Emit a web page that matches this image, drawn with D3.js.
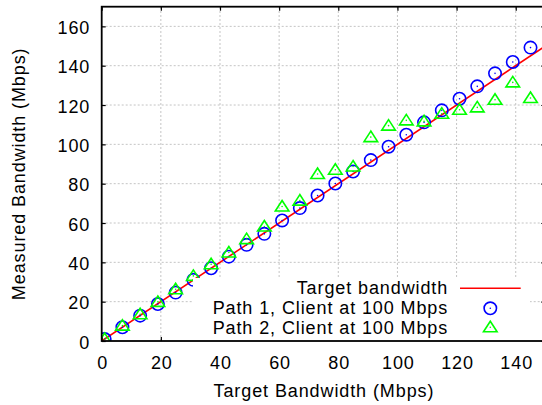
<!DOCTYPE html>
<html>
<head>
<meta charset="utf-8">
<script src="https://cdn.jsdelivr.net/npm/d3@7"></script>
<style>
  html, body { margin: 0; padding: 0; background: #fff; }
  svg { display: block; }
  text { font-family: "Liberation Sans", Arial, Helvetica, sans-serif; font-size: 18px; letter-spacing: 0.9px; fill: #000; }
</style>
</head>
<body>
<svg id="chart" width="542" height="405"></svg>
<script>
// ---- data ----
const targetX = [0, 150];
const targetY = [0, 150];
const xValues = [1, 7, 13, 19, 25, 31, 37, 43, 49, 55, 61, 67, 73, 79, 85, 91, 97, 103, 109, 115, 121, 127, 133, 139, 145];
const path1 = [1, 7, 12.9, 18.8, 24.6, 31.1, 37, 42.9, 48.9, 54.5, 61.3, 67.6, 74, 80.1, 86.2, 92, 98.8, 104.9, 111.2, 117.3, 123.2, 129.5, 136.1, 141.9, 149.2];
const path2 = [1, 7.8, 13.6, 19.9, 26.3, 33.1, 39, 45, 51.8, 58.2, 68.4, 71.4, 84.9, 87.1, 88.7, 103.7, 109.5, 112.2, 111.7, 115.6, 117.6, 118.8, 122.7, 131.5, 123.6];
const xTicks = [0, 20, 40, 60, 80, 100, 120, 140];
const yTicks = [0, 20, 40, 60, 80, 100, 120, 140, 160];
const legendLabels = ["Target bandwidth", "Path 1, Client at 100 Mbps", "Path 2, Client at 100 Mbps"];
const xTitle = "Target Bandwidth (Mbps)";
const yTitle = "Measured Bandwidth (Mbps)";

// ---- layout ----
const L = 101.7, R = 545.3, T = 6.7, B = 341;
const x = d3.scaleLinear().domain([0, 150]).range([L, R]);
const y = d3.scaleLinear().domain([0, 170]).range([B, T]);
const svg = d3.select("#chart");

const RED = "#ff0000", BLUE = "#0000ff", GREEN = "#00ff00";

svg.append("defs").append("clipPath").attr("id", "clip")
  .append("rect").attr("x", L).attr("y", T).attr("width", R - L).attr("height", B - T);

// grid
const grid = svg.append("g");
grid.selectAll("line.gx").data(xTicks.filter(d => d > 0)).join("line")
  .attr("x1", d => x(d)).attr("x2", d => x(d)).attr("y1", B).attr("y2", T)
  .attr("stroke", "#c4c4c4").attr("stroke-width", 1).attr("stroke-dasharray", "2,2");
grid.selectAll("line.gy").data(yTicks.filter(d => d > 0)).join("line")
  .attr("y1", d => y(d)).attr("y2", d => y(d)).attr("x1", L).attr("x2", R)
  .attr("stroke", "#c4c4c4").attr("stroke-width", 1).attr("stroke-dasharray", "2,2");

// axes (ticks inward)
const fmt = d3.format("d");
const gxB = svg.append("g").attr("transform", `translate(0,${B})`)
  .call(d3.axisBottom(x).tickValues(xTicks).tickFormat(fmt).tickSize(-4));
gxB.selectAll("text").attr("y", 28).attr("dy", 0).attr("dx", "0.45px");
const gyL = svg.append("g").attr("transform", `translate(${L},0)`)
  .call(d3.axisLeft(y).tickValues(yTicks).tickFormat(fmt).tickSize(-4));
gyL.selectAll("text").attr("x", -11.5).attr("dy", 7);
const gxT = svg.append("g").attr("transform", `translate(0,${T})`)
  .call(d3.axisTop(x).tickValues(xTicks).tickFormat("").tickSize(-4));
const gyR = svg.append("g").attr("transform", `translate(${R},0)`)
  .call(d3.axisRight(y).tickValues(yTicks).tickFormat("").tickSize(-4));
[gxB, gyL, gxT, gyR].forEach(g => {
  g.select(".domain").remove();
  g.attr("font-family", null).attr("font-size", null);
  g.selectAll(".tick line").attr("stroke", "#000").attr("stroke-width", 1.2);
  g.selectAll("text").attr("fill", "#000");
});

// data
const plot = svg.append("g").attr("clip-path", "url(#clip)");
const line = d3.line().x(d => x(d[0])).y(d => y(d[1]));
plot.append("path").datum(targetX.map((v, i) => [v, targetY[i]]))
  .attr("d", line).attr("fill", "none").attr("stroke", RED).attr("stroke-width", 1.6);

function circleMarker(g, cx, cy) {
  g.append("circle").attr("cx", cx).attr("cy", cy).attr("r", 6.2)
    .attr("fill", "none").attr("stroke", BLUE).attr("stroke-width", 1.6);
  g.append("circle").attr("cx", cx).attr("cy", cy).attr("r", 0.8).attr("fill", BLUE);
}
function triMarker(g, cx, cy) {
  const p = [[cx, cy - 6], [cx - 6.8, cy + 4.5], [cx + 6.8, cy + 4.5]];
  g.append("path").attr("d", "M" + p.map(q => q.join(",")).join("L") + "Z")
    .attr("fill", "none").attr("stroke", GREEN).attr("stroke-width", 1.6).attr("stroke-linejoin", "miter");
  g.append("circle").attr("cx", cx).attr("cy", cy).attr("r", 0.8).attr("fill", GREEN);
}
const g1 = plot.append("g");
xValues.forEach((v, i) => circleMarker(g1, x(v), y(path1[i])));
const g2 = plot.append("g");
xValues.forEach((v, i) => triMarker(g2, x(v), y(path2[i])));

// legend (opaque)
const lg = svg.append("g");
lg.append("rect").attr("x", 193).attr("y", 278).attr("width", 337).attr("height", B - 278).attr("fill", "#fff");
const textX = 448.2, rowY = [288.3, 308.3, 328.3];
legendLabels.forEach((t, i) => {
  lg.append("text").attr("x", textX).attr("y", rowY[i] + 6).attr("text-anchor", "end").text(t);
});
lg.append("line").attr("x1", 460).attr("x2", 520.7).attr("y1", rowY[0]).attr("y2", rowY[0])
  .attr("stroke", RED).attr("stroke-width", 1.6);
circleMarker(lg, 490.3, rowY[1]);
triMarker(lg, 490.3, rowY[2] - 1);

// frame
svg.append("rect").attr("x", L).attr("y", T).attr("width", R - L).attr("height", B - T)
  .attr("fill", "none").attr("stroke", "#000").attr("stroke-width", 1.8);

// titles
svg.append("text").attr("x", (L + R) / 2 + 0.45).attr("y", 397.3).attr("text-anchor", "middle").text(xTitle);
svg.append("text").attr("transform", `translate(25,${(T + B) / 2}) rotate(-90)`)
  .attr("text-anchor", "middle").text(yTitle);
</script>
</body>
</html>
